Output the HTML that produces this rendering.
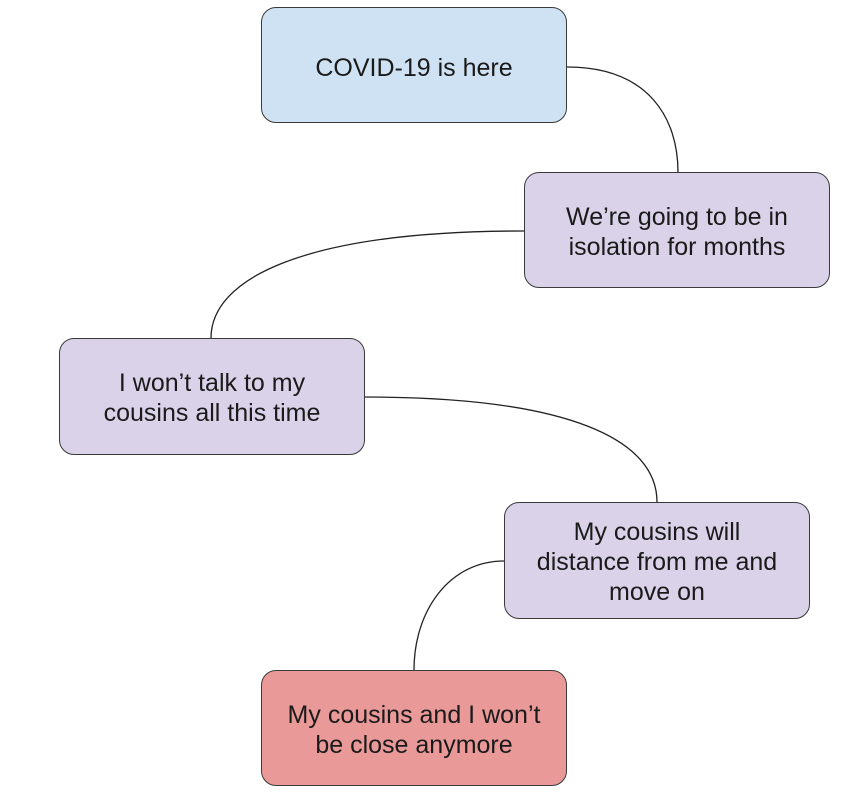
<!DOCTYPE html>
<html><head><style>
body{margin:0;background:#fff;width:864px;height:799px;position:relative;overflow:hidden;font-family:"Liberation Sans",Arial,sans-serif}
.b{position:absolute;width:304px;height:114px;border:1.5px solid #3a3a3a;border-radius:15px;display:flex;align-items:center;justify-content:center;text-align:center;font-size:25px;line-height:30px;color:#1a1a1a;box-sizing:border-box;padding-top:3px}
.p{background:#d9d2e9}
svg{position:absolute;left:0;top:0}
</style></head><body>
<svg width="864" height="799"><g fill="none" stroke="#222" stroke-width="1.3">
<path d="M567,67 C650,67 678,120 678,172"/>
<path d="M524,231 C300,231 211,280 211,338"/>
<path d="M365,397 C570,397 657,440 657,502"/>
<path d="M504,561 C450,561 414,610 414,670"/>
</g></svg>
<div class="b" style="left:261px;top:7px;width:306px;height:116px;background:#cfe2f3;padding-top:6px">COVID-19 is here</div>
<div class="b p" style="left:524px;top:172px;width:306px;height:116px">We’re going to be in<br>isolation for months</div>
<div class="b p" style="left:59px;top:338px;width:306px;height:117px">I won’t talk to my<br>cousins all this time</div>
<div class="b p" style="left:504px;top:502px;width:306px;height:117px">My cousins will<br>distance from me and<br>move on</div>
<div class="b" style="left:261px;top:670px;width:306px;height:116px;background:#ea9999">My cousins and I won’t<br>be close anymore</div>
</body></html>
